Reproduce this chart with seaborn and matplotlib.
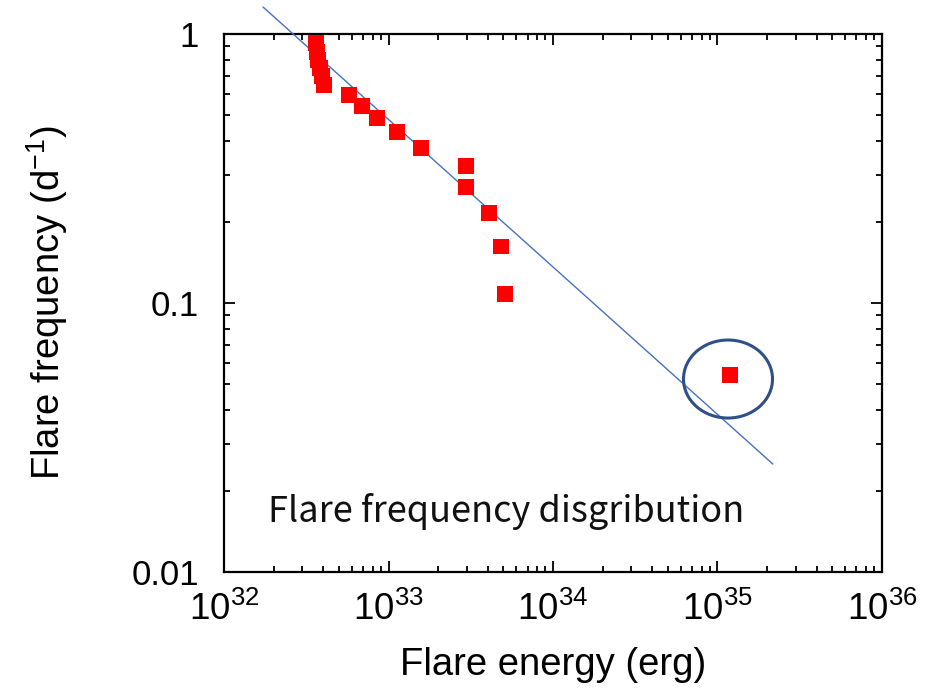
import matplotlib
matplotlib.use("Agg")
import matplotlib.pyplot as plt
import matplotlib.ticker as mticker
from matplotlib.patches import Ellipse
import numpy as np
import pandas as pd
import seaborn as sns

# Observed flares: energy (erg) and cumulative frequency (per day)
energy = [3.62e32, 3.67e32, 3.73e32, 3.83e32, 3.94e32, 4.06e32,
          5.75e32, 6.90e32, 8.51e32, 1.127e33, 1.578e33,
          2.96e33, 2.96e33, 4.08e33, 4.83e33, 5.11e33, 1.19e35]
frequency = [0.926, 0.857, 0.800, 0.748, 0.698, 0.646,
             0.593, 0.540, 0.487, 0.432, 0.377,
             0.323, 0.270, 0.216, 0.162, 0.108, 0.054]

# Power-law fit, given by its two end points
fit_energy = [1.726e32, 2.17e35]
fit_frequency = [1.26, 0.0252]

x_ticks = [1e32, 1e33, 1e34, 1e35, 1e36]
y_ticks = [0.01, 0.1, 1]
y_tick_labels = ["0.01", "0.1", "1"]

sns.set_style("ticks")
plt.rcParams["font.family"] = ["Liberation Sans", "DejaVu Sans"]
plt.rcParams["mathtext.fontset"] = "custom"
plt.rcParams["mathtext.rm"] = "Liberation Sans"
plt.rcParams["mathtext.it"] = "Liberation Sans"
plt.rcParams["text.color"] = "black"
plt.rcParams["axes.labelcolor"] = "black"
plt.rcParams["xtick.color"] = "black"
plt.rcParams["ytick.color"] = "black"

fig = plt.figure(figsize=(9.33, 6.98), dpi=100)
ax = fig.add_axes([0.2401, 0.1805, 0.7052, 0.7708])

df = pd.DataFrame({"energy": energy, "frequency": frequency})
sns.lineplot(x=fit_energy, y=fit_frequency, ax=ax, color="#4472C4",
             linewidth=1.0, clip_on=False, zorder=3)
sns.scatterplot(data=df, x="energy", y="frequency", ax=ax, marker="s",
                s=128, color="#FF0000", edgecolor="none", linewidth=0,
                zorder=4, clip_on=False)

ax.set_xscale("log")
ax.set_yscale("log")
ax.set_xlim(1e32, 1e36)
ax.set_ylim(0.01, 1)

ax.set_xticks(x_ticks)
ax.xaxis.set_major_formatter(mticker.LogFormatterSciNotation())
ax.xaxis.set_minor_locator(mticker.LogLocator(base=10, subs=np.arange(2, 10)))
ax.xaxis.set_minor_formatter(mticker.NullFormatter())
ax.set_yticks(y_ticks)
ax.set_yticklabels(y_tick_labels)
ax.yaxis.set_minor_locator(mticker.LogLocator(base=10, subs=np.arange(2, 10)))
ax.yaxis.set_minor_formatter(mticker.NullFormatter())

ax.tick_params(which="both", direction="in", top=True, right=True,
               width=1.3, color="black")
ax.tick_params(which="major", length=8)
ax.tick_params(which="minor", length=4)
ax.tick_params(axis="x", which="major", pad=14, labelsize=26.5)
ax.tick_params(axis="y", which="major", pad=18, labelsize=25)
for side in ax.spines.values():
    side.set_linewidth(1.6)
    side.set_color("black")

ax.set_xlabel("Flare energy (erg)", fontsize=27.5, labelpad=14)
ax.set_ylabel("Flare frequency (d$^{-1}$)", fontsize=27.5, labelpad=44)

# Highlight the superflare outlier
ax.add_patch(Ellipse((0.766, 0.3587), 0.1353, 0.145, transform=ax.transAxes,
                     fill=False, edgecolor="#2F4F8A", linewidth=2.2, zorder=5))

ax.text(0.067, 0.112, "Flare frequency disgribution", transform=ax.transAxes,
        fontsize=26, family=["Noto Sans CJK JP", "DejaVu Sans"],
        ha="left", va="center", color="#111111")

fig.savefig("out.png", dpi=100, facecolor="white")
